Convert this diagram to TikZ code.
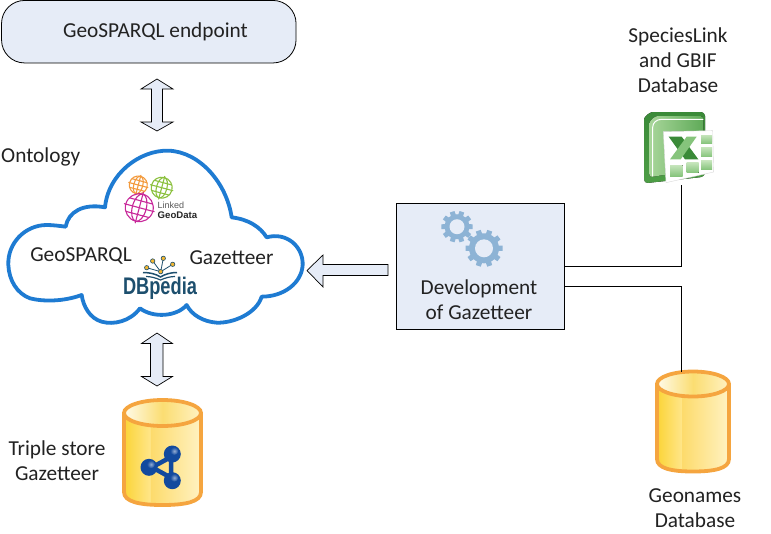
\documentclass[tikz,border=0pt]{standalone}
\usepackage{fontspec}
\setmainfont{Carlito}
\newfontfamily\logofont{Liberation Sans}
\usetikzlibrary{shadings}
\definecolor{boxfill}{HTML}{E6ECF7}
\definecolor{cloudblue}{HTML}{1E7BD2}
\definecolor{cylorange}{HTML}{F5A53F}
\definecolor{gearblue}{HTML}{8DB3D5}
\definecolor{dbteal}{HTML}{1D4F6E}
\definecolor{dbgold}{HTML}{F2B632}
\definecolor{netblue}{HTML}{124A9E}
\definecolor{txt}{HTML}{222222}
\definecolor{lgorange}{HTML}{F39A3C}
\definecolor{lggreen}{HTML}{8CC13F}
\definecolor{lgmag}{HTML}{C8289A}
\definecolor{cyla}{HTML}{FBD437}
\definecolor{cylb}{HTML}{FFE68A}
\definecolor{cylc}{HTML}{FDDB6C}
\definecolor{cyld}{HTML}{FFF2C2}
\definecolor{cyle}{HTML}{FFFBEA}
\definecolor{cylf}{HTML}{FBDD72}
\definecolor{xla}{HTML}{4E9E46}
\definecolor{xlb}{HTML}{3A8A38}
\definecolor{xlc}{HTML}{A8D69A}
\definecolor{xld}{HTML}{5FAA58}
\definecolor{xle}{HTML}{86C47C}
\definecolor{xlf}{HTML}{C4E4BA}
\tikzset{
  label text/.style={font=\fontsize{21.3}{25}\selectfont, text=txt, align=center, inner sep=0pt},
  block arrow/.style={draw=black, line width=0.7pt, fill=boxfill, line join=miter},
  plain link/.style={draw=black, line width=1pt},
  globe line/.style={line width=1.1pt, line cap=round},
}
% cylinder: cx, top-cy, rx, ry, bottom-cy
\newcommand{\dbcyl}[5]{%
  \begin{scope}
    \path[left color=cyla, right color=cylb]
      (#1-#3,#2) -- (#1-#3,#5)
      .. controls (#1-#3,#5+0.6*#4) and (#1-0.7*#3,#5+#4) .. (#1-0.3*#3,#5+#4)
      -- (#1-0.3*#3,#2) -- cycle;
    \path[left color=cylc, right color=cyld]
      (#1-0.3*#3,#2) -- (#1-0.3*#3,#5+#4) .. controls (#1+0.4*#3,#5+#4) and (#1+#3,#5+0.6*#4) .. (#1+#3,#5) -- (#1+#3,#2) -- cycle;
    \path[left color=cyle, right color=cyld, middle color=cylf]
      (#1,#2) ellipse[x radius=#3, y radius=#4];
    \draw[cylorange, line width=3.8pt]
      (#1,#2) ellipse[x radius=#3, y radius=#4];
    \draw[cylorange, line width=3.8pt, line join=round]
      (#1-#3,#2) -- (#1-#3,#5)
      .. controls (#1-#3,#5+0.75*#4) and (#1-0.6*#3,#5+#4) .. (#1,#5+#4)
      .. controls (#1+0.6*#3,#5+#4) and (#1+#3,#5+0.75*#4) .. (#1+#3,#5)
      -- (#1+#3,#2);
  \end{scope}}
% gear: cx, cy, outer r, root r, hole r, tooth half-width
\newcommand{\gearicon}[6]{%
  \fill[gearblue] (#1,#2) circle[radius=#4];
  \foreach \a in {0,36,...,324}{
    \fill[gearblue, shift={(#1,#2)}, rotate=\a+18]
      (-#6,0) -- (-#6*0.8,#3) -- (#6*0.8,#3) -- (#6,0) -- cycle;
  }
  \fill[boxfill] (#1,#2) circle[radius=#5];}
% globe: cx, cy, r, colour
\newcommand{\globeicon}[4]{%
  \begin{scope}[#4, globe line, shift={(#1,#2)}, rotate=-15]
    \draw (0,0) circle[radius=#3];
    \draw (0,0) ellipse[x radius=0.5*#3, y radius=#3];
    \draw (0,-#3*1.12) -- (0,#3*1.12);
    \draw (-#3*1.1,0) -- (#3*1.1,0);
    \draw (-#3*0.85,-#3*0.5) -- (#3*0.85,-#3*0.5);
    \draw (-#3*0.85,#3*0.5) -- (#3*0.85,#3*0.5);
  \end{scope}}
\begin{document}
\begin{tikzpicture}[x=1pt,y=-1pt]
\useasboundingbox[fill=white] (0,0) rectangle (771,533);

% top endpoint
\node[draw=black, line width=0.8pt, fill=boxfill, rounded corners=23pt,
      minimum width=294.5pt, minimum height=62.5pt, inner sep=0pt] (endpoint) at (148.8,31.7) {};
\node[label text] (endpointtext) at (155.5,32) {GeoSPARQL endpoint};

% double arrows
\draw[block arrow] (157,79) -- (173,89) -- (162.5,89) -- (162.5,122) -- (173,122) -- (157,131)
  -- (141,122) -- (151.5,122) -- (151.5,89) -- (141,89) -- cycle;
\draw[block arrow] (157,333) -- (172.5,343.5) -- (163,343.5) -- (163,376.5) -- (172.5,376.5) -- (157,386)
  -- (141.5,376.5) -- (150.5,376.5) -- (150.5,343.5) -- (141.5,343.5) -- cycle;

% cloud
\begin{scope}[x=0.33333pt,y=-0.33333pt,shift={(0pt,-130pt)}]
\draw[cloudblue, line width=3.8pt, fill=white, line join=round]
  (25,405) .. controls (22,340) and (75,285) .. (140,285)
  .. controls (160,285) and (180,288) .. (197,290)
  .. controls (205,245) and (250,220) .. (315,232)
  .. controls (325,130) and (420,60) .. (505,62)
  .. controls (600,65) and (680,160) .. (695,262)
  .. controls (745,268) and (780,290) .. (800,322)
  .. controls (860,305) and (910,350) .. (908,405)
  .. controls (905,460) and (850,500) .. (785,500)
  .. controls (770,550) and (700,580) .. (650,578)
  .. controls (610,575) and (575,555) .. (560,525)
  .. controls (530,560) and (460,565) .. (420,535)
  .. controls (390,575) and (340,585) .. (305,575)
  .. controls (270,565) and (250,530) .. (245,495)
  .. controls (190,515) and (130,515) .. (90,505)
  .. controls (50,490) and (27,450) .. (25,405) -- cycle;
\end{scope}

\node[label text, anchor=west] (ontology) at (1,157) {Ontology};
\node[label text] (geosparql) at (81,256) {GeoSPARQL};
\node[label text] (gazetteer) at (231.5,258) {Gazetteer};

% LinkedGeoData logo
\globeicon{138.3}{185}{9}{lgorange}
\globeicon{161.7}{187.7}{10.5}{lggreen}
\globeicon{139.3}{207.7}{14}{lgmag}
\node[anchor=west, inner sep=0pt, text=black!65, font=\logofont\fontsize{9}{9}\selectfont] (lgdlinked) at (157.5,205.5) {Linked};
\node[anchor=west, inner sep=0pt, text=black!85, font=\logofont\bfseries\fontsize{9.6}{9.6}\selectfont] (lgdgeo) at (157.5,215) {GeoData};

% DBpedia logo
\node[inner sep=0pt, text=dbteal, font=\logofont\bfseries\fontsize{24}{24}\selectfont, xscale=0.76] (dbp) at (160,288.5) {DBpedia};
\draw[dbteal, line width=1.5pt] (143,272.5) .. controls (150,272.5) and (156,274) .. (160.5,277) .. controls (165,274) and (171,272.5) .. (177,272.5);
\draw[dbteal, line width=1.2pt] (146,276.5) .. controls (151,276.5) and (156,278) .. (160.5,280) .. controls (165,278) and (170,276.5) .. (175,276.5);
\draw[dbteal, line width=0.8pt]
  (160.7,271.7) -- (163.3,258.3) (160.7,271.7) -- (152.7,261)
  (160.7,271.7) -- (172.7,264.3) (160.7,271.7) -- (146.7,267.7);
\foreach \px/\py in {163.3/258.3,152.7/261,172.7/264.3,146.7/267.7,160.7/271.7}{
  \fill[dbgold, draw=dbteal, line width=0.6pt] (\px,\py) circle[radius=2.2];
}

% left arrow
\draw[block arrow] (307,270.5) -- (323,255) -- (323,264.5) -- (388,264.5) -- (388,275.5) -- (323,275.5) -- (323,287) -- cycle;

% triple store
\dbcyl{162.5}{413}{38.5}{13}{492}
\draw[netblue, line width=4.5pt, line join=round] (152,467.3) -- (171,457) -- (171,477.7) -- cycle;
\fill[netblue] (149,467.3) circle[radius=8.5];
\fill[netblue] (172.3,454) circle[radius=8.5];
\fill[netblue] (172.3,480.7) circle[radius=8.5];
\shade[inner color=netblue!45!white, outer color=netblue] (151,464.3) circle[radius=4];
\shade[inner color=netblue!45!white, outer color=netblue] (174.3,451) circle[radius=4];
\shade[inner color=netblue!45!white, outer color=netblue] (174.3,477.7) circle[radius=4];
\node[label text] (triple) at (57,460.5) {Triple store\\Gazetteer};

% geonames
\dbcyl{693}{384}{36}{12.5}{459}
\node[label text] (geonames) at (695,508.5) {Geonames\\Database};
\coordinate (geotop) at (681,372);

% excel icon
\begin{scope}[x=0.33333pt,y=-0.33333pt,shift={(620pt,-100pt)}]
\fill[top color=xlb, bottom color=xla, rounded corners=4pt]
  (72,250) -- (72,70) .. controls (72,50) and (90,36) .. (110,36) -- (255,36) -- (255,230) -- cycle;
\fill[left color=xlc, right color=xld, rounded corners=3pt]
  (88,232) -- (88,80) .. controls (88,62) and (105,48) .. (122,48) -- (250,48) -- (250,205) -- cycle;
\draw[white, line width=1pt] (98,228) -- (98,82) .. controls (98,68) and (110,58) .. (125,58) -- (250,58);
\fill[white, draw=black!15, line width=0.4pt] (130,95) -- (278,92) -- (281,216) -- (138,248) -- cycle;
\foreach \cx/\cy/\cw/\ch in {243/105/33/25,243/142/33/28,243/182/33/26,200/188/36/30,150/196/38/32}{
  \fill[bottom color=xle, top color=xlf] (\cx,\cy) rectangle ++(\cw,\ch);
}
\fill[xlb] (146,110) -- (185,110) -- (235,178) -- (195,178) -- cycle;
\fill[xle] (230,110) -- (200,110) -- (150,178) -- (182,178) -- cycle;
\end{scope}
\coordinate (excelbottom) at (681,185);
\node[label text] (species) at (678,60) {SpeciesLink\\and GBIF\\Database};

% development box
\node[draw=black, line width=1pt, fill=boxfill, minimum width=167.5pt, minimum height=126pt, inner sep=0pt] (dev) at (480.5,266) {};
\gearicon{457}{226.7}{15.7}{12.5}{7.5}{3}
\gearicon{484}{248.3}{18.5}{15}{9}{3.2}
\node[label text] (devtext) at (479,299.5) {Development\\of Gazetteer};

% connectors
\coordinate (levelone) at (0,266.5);
\coordinate (leveltwo) at (0,286.5);
\draw[plain link] (dev.east |- levelone) -| (excelbottom);
\draw[plain link] (dev.east |- leveltwo) -| (geotop);
\end{tikzpicture}
\end{document}
